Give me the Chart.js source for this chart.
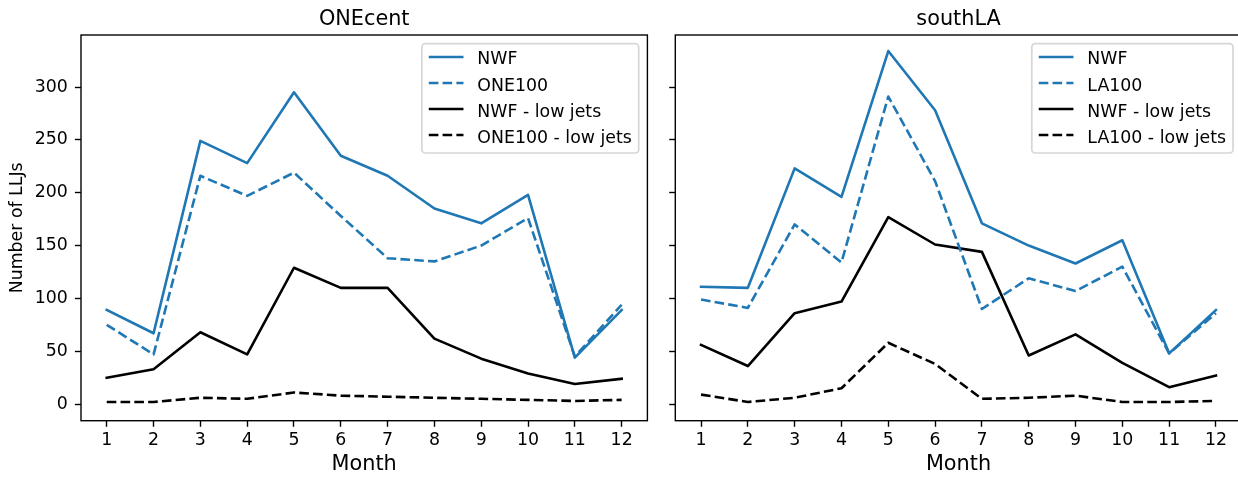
<!DOCTYPE html>
<html>
<head>
<meta charset="utf-8">
<script src="https://cdn.jsdelivr.net/npm/chart.js@4/dist/chart.umd.min.js"></script>
<style>
  html, body { margin: 0; padding: 0; background: #fff; overflow: hidden; width: 1238px; height: 477px; }
  #wrap { position: relative; width: 1238px; height: 477px; overflow: hidden; }
  canvas { position: absolute; top: 0; }
  #oneCanvas { left: 0; }
  #laCanvas { left: 662px; }
</style>
</head>
<body>
<div id="wrap">
  <canvas id="oneCanvas" width="662" height="477"></canvas>
  <canvas id="laCanvas" width="600" height="477"></canvas>
</div>
<script>
// Monthly low-level jet counts for two regions
const months = [1, 2, 3, 4, 5, 6, 7, 8, 9, 10, 11, 12];
const yTicks = [0, 50, 100, 150, 200, 250, 300];

// ONEcent
const oneNwf       = [89, 67, 249, 228, 295, 235, 216, 185, 171, 198, 44, 89];
const oneOne100    = [75, 47, 216, 197, 219, 178, 138, 135, 150, 176, 45, 94];
const oneNwfLow    = [25, 33, 68, 47, 129, 110, 110, 62, 43, 29, 19, 24];
const oneOne100Low = [2, 2, 6, 5, 11, 8, 7, 6, 5, 4, 3, 4];

// southLA
const laNwf      = [111, 110, 223, 196, 334, 278, 171, 150, 133, 155, 48, 89];
const laLa100    = [99, 91, 170, 134, 291, 211, 90, 119, 107, 130, 48, 86];
const laNwfLow   = [56, 36, 86, 97, 177, 151, 144, 46, 66, 39, 16, 27];
const laLa100Low = [9, 2, 6, 15, 58, 38, 5, 6, 8, 2, 2, 3];

const BLUE = '#1f77b4';
const BLACK = '#000000';
const FONT = "'DejaVu Sans', 'Liberation Sans', sans-serif";
const FS = 17.35;      // 10 pt
const FS_BIG = 20.8;   // 12 pt
const LW = 2.6;
const DASH = [9.6, 4.2];

Chart.defaults.font.family = FONT;
Chart.defaults.color = BLACK;

function toPoints(values) {
  return months.map((m, i) => ({ x: m, y: values[i] }));
}

function lineSet(label, values, color, dashed) {
  return {
    label: label,
    data: toPoints(values),
    borderColor: color,
    backgroundColor: color,
    borderWidth: LW,
    borderDash: dashed ? DASH : [],
    borderCapStyle: dashed ? 'butt' : 'square',
    borderJoinStyle: 'round',
    pointRadius: 0,
    pointHoverRadius: 0,
    tension: 0,
    fill: false
  };
}

// Frame, panel title and boxed legend drawn over the plot area
const panelDecor = {
  id: 'panelDecor',
  afterDraw(chart, args, opts) {
    const ctx = chart.ctx;
    const ca = chart.chartArea;
    ctx.save();

    // axes frame
    ctx.strokeStyle = BLACK;
    ctx.lineWidth = 1.39;
    ctx.setLineDash([]);
    ctx.strokeRect(ca.left, ca.top, ca.right - ca.left, ca.bottom - ca.top);

    // title
    ctx.fillStyle = BLACK;
    ctx.font = FS_BIG + 'px ' + FONT;
    ctx.textAlign = 'center';
    ctx.textBaseline = 'alphabetic';
    ctx.fillText(opts.title, (ca.left + ca.right) / 2, 25);

    // legend
    const sets = chart.data.datasets;
    ctx.font = FS + 'px ' + FONT;
    const maxW = Math.max(...sets.map(d => ctx.measureText(d.label).width));
    const pad = 0.4 * FS, hLen = 2.0 * FS, hPad = 0.8 * FS, gap = 0.5 * FS;
    const w = pad + hLen + hPad + maxW + pad;
    const h = 2 * pad + sets.length * FS + (sets.length - 1) * gap;
    const right = ca.right - 0.5 * FS;
    const left = right - w;
    const top = ca.top + 0.5 * FS;
    const r = 0.2 * FS;

    ctx.beginPath();
    ctx.roundRect(left, top, w, h, r);
    ctx.fillStyle = 'rgba(255,255,255,0.8)';
    ctx.fill();
    ctx.strokeStyle = 'rgba(204,204,204,0.8)';
    ctx.lineWidth = 1.7;
    ctx.stroke();

    sets.forEach((d, i) => {
      const rowY = top + 13.3 + i * (FS + gap);
      ctx.beginPath();
      ctx.strokeStyle = d.borderColor;
      ctx.lineWidth = LW;
      ctx.lineCap = 'butt';
      ctx.setLineDash(d.borderDash || []);
      ctx.moveTo(left + pad, rowY);
      ctx.lineTo(left + pad + hLen, rowY);
      ctx.stroke();
      ctx.setLineDash([]);
      ctx.fillStyle = BLACK;
      ctx.textAlign = 'left';
      ctx.textBaseline = 'alphabetic';
      ctx.fillText(d.label, left + pad + hLen + hPad, rowY + 7.5);
    });

    ctx.restore();
  }
};

function makePanel(canvasId, title, datasets, showY, yAxisWidth, padRight) {
  const tickGrid = {
    display: true,
    drawOnChartArea: false,
    drawTicks: true,
    tickLength: 6.1,
    tickWidth: 1.39,
    tickColor: BLACK
  };
  return new Chart(document.getElementById(canvasId), {
    type: 'line',
    data: { datasets: datasets },
    plugins: [panelDecor],
    options: {
      responsive: false,
      animation: false,
      devicePixelRatio: 1,
      layout: { padding: { left: 0, right: padRight, top: 35, bottom: 0 } },
      plugins: {
        legend: { display: false },
        tooltip: { enabled: false },
        panelDecor: { title: title }
      },
      scales: {
        x: {
          type: 'linear',
          min: 0.45,
          max: 12.55,
          afterBuildTicks: s => { s.ticks = months.map(v => ({ value: v })); },
          afterFit: s => { s.height = 477 - 420.7; },
          ticks: { autoSkip: false, maxRotation: 0, padding: 3.5, color: BLACK, font: { size: FS } },
          grid: tickGrid,
          border: { display: false },
          title: { display: true, text: 'Month', color: BLACK, font: { size: FS_BIG }, padding: { top: 0, bottom: 0 } }
        },
        y: {
          type: 'linear',
          min: -15.7,
          max: 349.2,
          afterBuildTicks: s => { s.ticks = yTicks.map(v => ({ value: v })); },
          afterFit: s => { s.width = yAxisWidth; },
          ticks: { display: showY, padding: 7, color: BLACK, font: { size: FS } },
          grid: tickGrid,
          border: { display: false },
          title: { display: showY, text: 'Number of LLJs', color: BLACK, font: { size: FS }, padding: { top: 7.5, bottom: 0 } }
        }
      }
    }
  });
}

makePanel('oneCanvas', 'ONEcent', [
  lineSet('NWF', oneNwf, BLUE, false),
  lineSet('ONE100', oneOne100, BLUE, true),
  lineSet('NWF - low jets', oneNwfLow, BLACK, false),
  lineSet('ONE100 - low jets', oneOne100Low, BLACK, true)
], true, 81, 662 - 647.4);

makePanel('laCanvas', 'southLA', [
  lineSet('NWF', laNwf, BLUE, false),
  lineSet('LA100', laLa100, BLUE, true),
  lineSet('NWF - low jets', laNwfLow, BLACK, false),
  lineSet('LA100 - low jets', laLa100Low, BLACK, true)
], false, 13.3, 600 - 579.7);
</script>
</body>
</html>
